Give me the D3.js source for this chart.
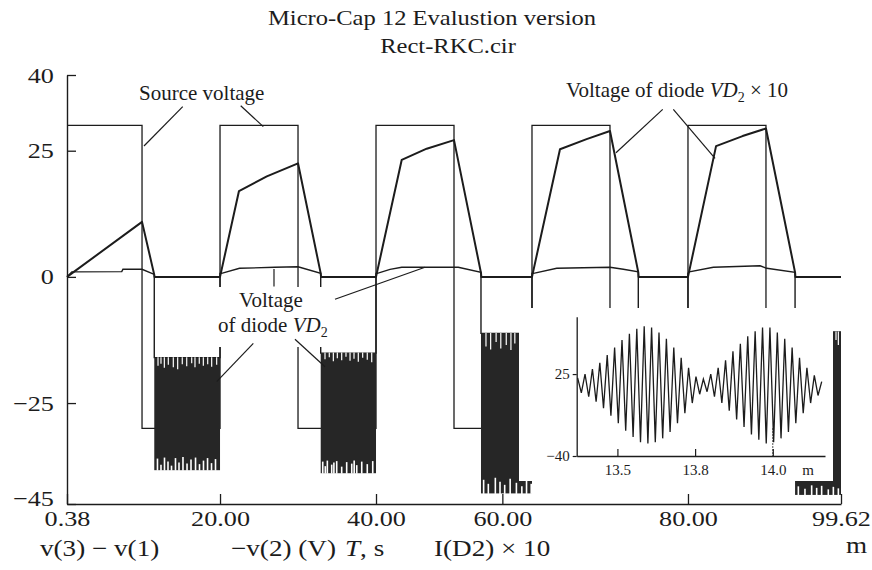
<!DOCTYPE html>
<html><head><meta charset="utf-8">
<script src="https://cdn.jsdelivr.net/npm/d3@7/dist/d3.min.js"></script>
<style>
html,body{margin:0;padding:0;background:#fff;}
svg{display:block;}
</style></head><body>
<svg id="chart" width="872" height="570"></svg>
<script>
// ---------------- data ----------------
const xTickValues = [0.38, 20, 40, 56.2, 80, 99.62];
const xTickLabels = ["0.38", "20.00", "40.00", "60.00", "80.00", "99.62"];
const yTickValues = [40, 25, 0, -25, -45];

// source voltage v(3) - v(1), V
const sourceT = [0.38, 10, 10, 20, 20, 30, 30, 40, 40, 50, 50, 60, 60, 70, 70, 80, 80, 90, 90, 99.62];
const sourceV = [30, 30, -30, -30, 30, 30, -30, -30, 30, 30, -30, -30, 30, 30, -30, -30, 30, 30, -30, -30];

// I(D2) x 10 (labelled "voltage of diode VD2 x 10")
const rampT = [0.38, 10, 11.57, 11.6, 20, 22.43, 26, 30, 32.91, 32.95, 40, 43.3, 46.5, 50, 53.46, 53.5, 60, 63.59, 67, 70, 73.63, 73.67, 80, 83.6, 87, 90, 93.73, 93.77, 99.62];
const rampV = [0, 10.9, 0.4, 0, 0, 17.0, 19.9, 22.5, 0.7, 0, 0, 23.2, 25.4, 27.1, 0.8, 0, 0, 25.3, 27.3, 28.9, 0.9, 0, 0, 25.9, 27.9, 29.4, 0.9, 0, 0];

// -v(2): diode voltage outside the dense oscillation bands
const diodeT = [0.38, 1.0, 7.4, 7.55, 10, 11.57, 11.57, 20, 20,
  20.2, 22.5, 27, 30, 32.91, 32.91, 40, 40,
  40.17, 41.8, 43.3, 50.55, 53.46, 53.46, 60, 60,
  60.2, 63.17, 70, 71.71, 73.63, 73.63, 80, 80,
  80.17, 83.25, 89.24, 90.1, 93.73, 93.73, 99.62];
const diodeV = [0, 1.0, 1.05, 1.5, 1.5, 0.5, -16.0, -16.0, 0.7,
  0.7, 1.7, 1.9, 2.0, 0.7, -15.1, -15.1, 0.7,
  0.7, 1.5, 1.9, 1.9, 0.9, -11.2, -11.2, 0.7,
  0.7, 1.7, 1.9, 1.5, 1.0, -11.0, -11.0, 0.7,
  1.0, 1.9, 2.2, 1.7, 0.9, -10.9, -10.9];

// dense oscillation bands of -v(2) (envelope + peaks that fall short)
const bandStart = [11.57, 32.91, 53.46, 73.63, 93.73];
const bandEnd = [20, 40, 60, 80, 99.62];
const bandTop = [-16.0, -15.1, -11.2, -11.0, -10.9];
const bandBottom = [-38.3, -38.9, -42.9, -43.0, -43.2];
const topGaps = [
  [[12.05,-17.6],[12.43,-17.2],[12.86,-18.0],[13.37,-17.4],[14.01,-17.9],[14.57,-18.3],[15.16,-17.3],[15.73,-17.7],[16.37,-17.1],[16.79,-17.9],[17.34,-17.2],[17.86,-17.6],[18.42,-17.3],[18.93,-17.8],[19.57,-17.4]],
  [[33.46,-16.3],[34.01,-15.9],[34.53,-16.7],[35.04,-16.1],[35.6,-16.5],[36.15,-15.8],[36.67,-16.6],[37.18,-16.2],[37.73,-16.8],[38.29,-16.0],[38.88,-16.4],[39.45,-16.9]],
  [[54.1,-13.8],[54.7,-14.4],[55.4,-12.9],[56.0,-14.2],[56.7,-13.5],[57.3,-14.5],[57.8,-13.2]],
  [[75.0,-13.5],[77.0,-14.0],[79.0,-13.0]],
  [[98.98,-12.5],[99.28,-13.5]]
];
const bottomGaps = [
  [[11.98,-36.0],[12.43,-37.2],[12.88,-35.8],[13.33,-36.6],[13.78,-37.4],[14.29,-35.9],[14.74,-36.8],[15.25,-35.7],[15.77,-37.0],[16.28,-36.2],[16.86,-35.8],[17.37,-37.1],[17.88,-36.4],[18.4,-35.9],[18.91,-36.9],[19.42,-36.1]],
  [[33.17,-36.6],[33.5,-37.5],[33.76,-36.4],[34.32,-37.2],[34.6,-36.8],[34.96,-36.5],[35.6,-37.6],[36.24,-36.7],[36.89,-37.0],[37.2,-36.4],[37.53,-37.3],[38.17,-36.6],[38.88,-37.1],[39.58,-36.5]],
  [[53.8,-40.2],[54.4,-41.0],[55.3,-39.8],[55.9,-40.6],[56.5,-41.2],[57.2,-40.0],[58.0,-40.8],[58.7,-41.5],[59.3,-40.3],[59.9,-41.0]],
  [[75.0,-40.5],[77.5,-41.0]],
  [[94.15,-41.5],[95.0,-42.0],[95.86,-41.3],[96.5,-41.8],[97.14,-41.4],[97.99,-42.1],[98.64,-41.6],[99.28,-41.9]]
];

// inset: zoomed oscillation (beats)
const insetXTicks = [13.5, 13.75, 14.0];
const insetXLabels = ["13.5", "13.8", "14.0"];
const insetYTicks = [25, -40];
const insetT0 = 13.372, insetDt = 0.0119;
const insetV = [22,10, 25,7, 29,3, 34,-2, 40,-8, 46,-14, 52,-20, 57,-25, 61,-29, 63,-30, 62,-29, 58,-26, 53,-21, 46,-14, 38,-6, 30,2, 23,9,
  21,11, 25,7, 30,2, 36,-4, 43,-11, 49,-17, 55,-23, 59,-27, 62,-30, 62,-29, 58,-26, 53,-21, 46,-14, 38,-6, 30,2, 24,8,
  19];

// annotation leader lines, in data units [t1, v1, t2, v2]
const leaders = [
  [15.22, 33.72, 10.25, 25.93],
  [22.65, 33.92, 25.55, 29.76],
  [76.76, 33.2, 70.77, 24.6],
  [78.12, 33.2, 83.47, 23.5],
  [24.27, -13.16, 19.57, -20.77],
  [29.61, -12.37, 33.46, -17.8],
  [34.74, -4.44, 46.28, 1.9],
  [26.92, -1.93, 26.92, 1.58]
];

// ---------------- drawing ----------------
const svg = d3.select("#chart");
const SERIF = "'Liberation Serif', 'Times New Roman', serif";
const INK = "#1c1c1c";

const x = d3.scaleLinear().domain([0.38, 99.62]).range([67, 841]);
const y = d3.scaleLinear().domain([-45, 40]).range([504, 75]);

const line = d3.line().x(d => x(d[0])).y(d => y(d[1]));

const plot = svg.append("g");
plot.append("path").datum(d3.zip(sourceT, sourceV)).attr("d", line)
  .attr("fill", "none").attr("stroke", INK).attr("stroke-width", 1.3);
plot.append("path").datum(d3.zip(rampT, rampV)).attr("d", line)
  .attr("fill", "none").attr("stroke", INK).attr("stroke-width", 2).attr("stroke-linejoin", "round");
plot.append("path").datum(d3.zip(diodeT, diodeV)).attr("d", line)
  .attr("fill", "none").attr("stroke", INK).attr("stroke-width", 1.4);

// bands
bandStart.forEach((t0, i) => {
  const g = plot.append("g");
  g.append("rect")
    .attr("x", x(t0)).attr("width", x(bandEnd[i]) - x(t0))
    .attr("y", y(bandTop[i])).attr("height", y(bandBottom[i]) - y(bandTop[i]))
    .attr("fill", "#262626");
  g.selectAll("line.tg").data(topGaps[i]).join("line")
    .attr("x1", d => x(d[0])).attr("x2", d => x(d[0]))
    .attr("y1", y(bandTop[i]) - 0.5).attr("y2", d => y(d[1]))
    .attr("stroke", "#fff").attr("stroke-width", 1.2);
  g.selectAll("line.bg").data(bottomGaps[i]).join("line")
    .attr("x1", d => x(d[0])).attr("x2", d => x(d[0]))
    .attr("y1", y(bandBottom[i]) + 0.5).attr("y2", d => y(d[1]))
    .attr("stroke", "#fff").attr("stroke-width", 1.6);
});

// text helper (optionally horizontally stretched)
function stext(parent, px, py, anchor, size, sx) {
  return parent.append("text")
    .attr("transform", `translate(${px},${py}) scale(${sx},1)`)
    .attr("text-anchor", anchor)
    .attr("font-family", SERIF).attr("font-size", size).attr("fill", INK);
}

// label background for "Voltage of diode VD2"
svg.append("rect").attr("x", 216).attr("y", 287).attr("width", 116).attr("height", 60).attr("fill", "#fff");

// annotations
const ann = svg.append("g");
stext(ann, 139, 100, "start", 21, 1).text("Source voltage");
{
  const t = stext(ann, 566, 97, "start", 21, 1);
  t.append("tspan").text("Voltage of diode ");
  t.append("tspan").attr("font-style", "italic").text("VD");
  t.append("tspan").attr("font-size", 14).attr("dy", 5).text("2");
  t.append("tspan").attr("dy", -5).text(" × 10");
}
stext(ann, 239, 307, "start", 21, 1).text("Voltage");
{
  const t = stext(ann, 218, 332, "start", 21, 1);
  t.append("tspan").text("of diode ");
  t.append("tspan").attr("font-style", "italic").text("VD");
  t.append("tspan").attr("font-size", 14).attr("dy", 5).text("2");
}
ann.selectAll("line.leader").data(leaders).join("line")
  .attr("x1", d => x(d[0])).attr("y1", d => y(d[1]))
  .attr("x2", d => x(d[2])).attr("y2", d => y(d[3]))
  .attr("stroke", INK).attr("stroke-width", 1.2);

// ---------------- inset ----------------
const inset = svg.append("g");
inset.append("path")
  .attr("d", "M519,308H833V481H795V497H533V481H519Z")
  .attr("fill", "#fff");
const ix = d3.scaleLinear().domain([13.369, 14.168]).range([576.7, 825]);
const iy = d3.scaleLinear().domain([-40, 70.5]).range([456, 316.7]);
const insetData = insetV.map((v, i) => [insetT0 + i * insetDt, v]);
inset.append("path").datum(insetData)
  .attr("d", d3.line().x(d => ix(d[0])).y(d => iy(d[1])))
  .attr("fill", "none").attr("stroke", INK).attr("stroke-width", 1.3);
inset.append("line")
  .attr("x1", ix(14.0)).attr("x2", ix(14.0)).attr("y1", iy(-18)).attr("y2", iy(-40))
  .attr("stroke", INK).attr("stroke-width", 1).attr("stroke-dasharray", "1.5,1.5");

const ixAxis = inset.append("g").attr("transform", `translate(0,${iy(-40)})`)
  .call(d3.axisBottom(ix).tickValues(insetXTicks).tickFormat((d, i) => insetXLabels[i])
    .tickSizeInner(-7).tickSizeOuter(0));
const iyAxis = inset.append("g").attr("transform", `translate(${ix.range()[0]},0)`)
  .call(d3.axisLeft(iy).tickValues(insetYTicks).tickFormat(d => d < 0 ? "−" + (-d) : String(d))
    .tickSizeInner(4).tickSizeOuter(0).tickPadding(3));
[ixAxis, iyAxis].forEach(a => {
  a.select(".domain").attr("stroke", INK).attr("stroke-width", 1.3);
  a.selectAll(".tick line").attr("stroke", INK).attr("stroke-width", 1.2);
  a.selectAll("text").attr("font-family", SERIF).attr("font-size", 15).attr("fill", INK);
});
ixAxis.selectAll("text").attr("y", 19).attr("dy", null);
inset.append("text").attr("x", 808).attr("y", 475).attr("text-anchor", "middle")
  .attr("font-family", SERIF).attr("font-size", 15).attr("fill", INK).text("m");

// ---------------- main axes ----------------
const xAxis = svg.append("g").attr("transform", `translate(0,${y(-45)})`)
  .call(d3.axisBottom(x).tickValues(xTickValues).tickFormat((d, i) => xTickLabels[i])
    .tickSizeInner(-10).tickSizeOuter(0));
const yAxis = svg.append("g").attr("transform", `translate(${x(0.38)},0)`)
  .call(d3.axisLeft(y).tickValues(yTickValues).tickFormat(d => d < 0 ? "−" + (-d) : String(d))
    .tickSizeInner(-9).tickSizeOuter(0).tickPadding(11));
[xAxis, yAxis].forEach(a => {
  a.select(".domain").attr("stroke", INK).attr("stroke-width", 1.4);
  a.selectAll(".tick line").attr("stroke", INK).attr("stroke-width", 1.3);
  a.selectAll("text").attr("font-family", SERIF).attr("font-size", 22).attr("fill", INK)
    .attr("transform", "scale(1.19,1)");
});
xAxis.selectAll("text").attr("y", 22).attr("dy", null);
// lowest y label sits slightly above its tick, clear of the first x label
yAxis.selectAll(".tick").filter(d => d === yTickValues[yTickValues.length - 1])
  .select("text").attr("y", -6);

// ---------------- titles & axis captions ----------------
stext(svg, 268, 25, "start", 21, 1.17).text("Micro-Cap 12 Evalustion version");
stext(svg, 448, 53, "middle", 21, 1.17).text("Rect-RKC.cir");

const cap = svg.append("g");
stext(cap, 40, 556, "start", 23, 1.18).text("v(3) − v(1)");
stext(cap, 231, 556, "start", 23, 1.18).text("−v(2) (V)");
{
  const t = stext(cap, 345, 556, "start", 23, 1.18);
  t.append("tspan").attr("font-style", "italic").text("T");
  t.append("tspan").text(", s");
}
stext(cap, 434, 556, "start", 23, 1.18).text("I(D2) × 10");
stext(cap, 867, 553, "end", 23, 1.18).text("m");
</script>
</body></html>
